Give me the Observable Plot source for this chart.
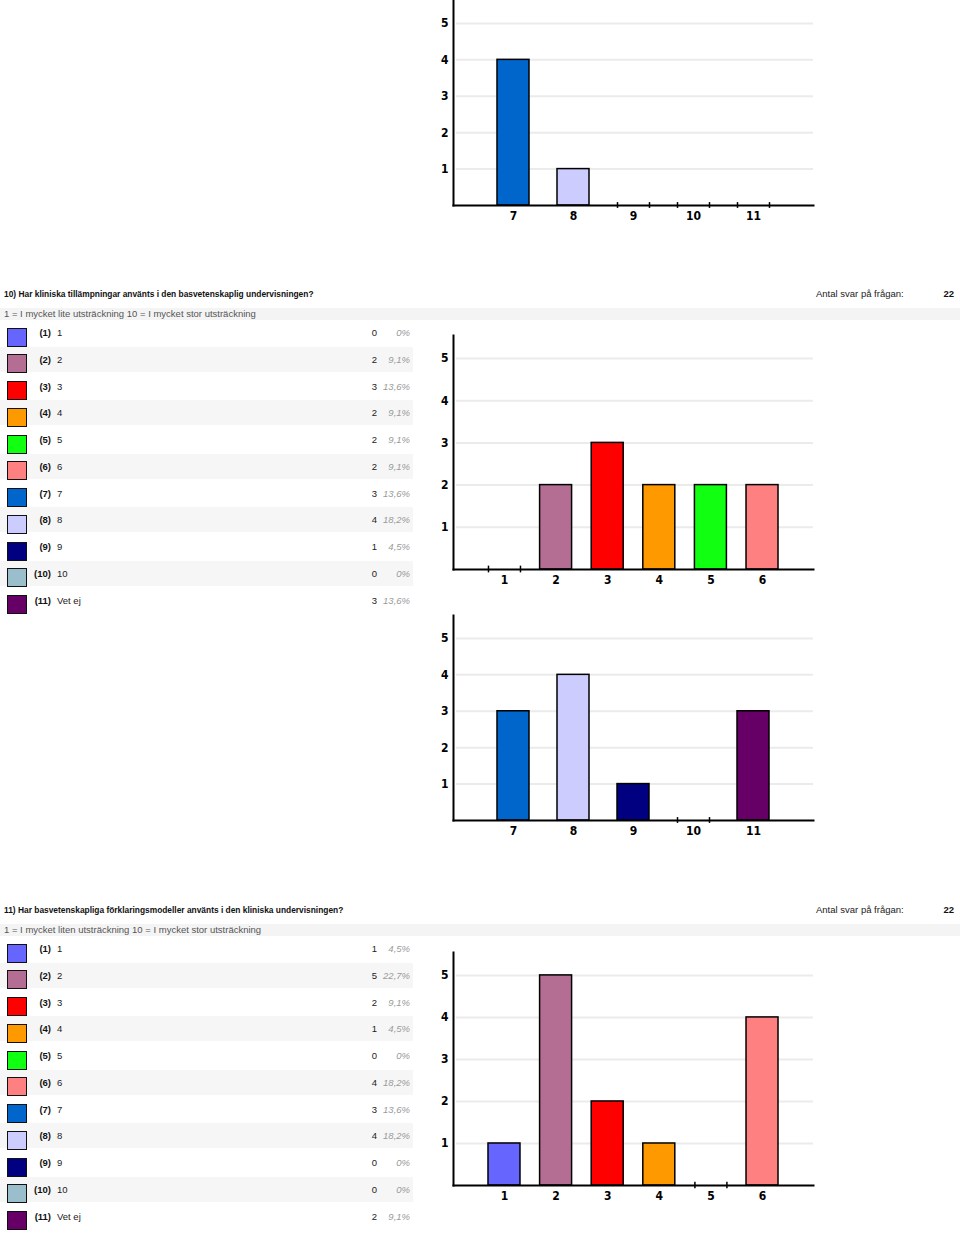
<!DOCTYPE html>
<html><head><meta charset="utf-8">
<script src="https://cdn.jsdelivr.net/npm/d3@7"></script>
<script src="https://cdn.jsdelivr.net/npm/@observablehq/plot@0.6"></script>
<style>
html,body{margin:0;padding:0;background:#fff}
#page{position:relative;width:960px;height:1235px;overflow:hidden;font-family:"Liberation Sans",Arial,sans-serif;color:#222}
.abs{position:absolute;white-space:nowrap}
.chart{position:absolute;left:420px}
.chart svg{overflow:visible}
</style></head><body><div id="page"></div>
<script>
// ---------- data ----------
const optionKeys = ["1","2","3","4","5","6","7","8","9","10","11"];
const optionNames = ["1","2","3","4","5","6","7","8","9","10","Vet ej"];
const optionColors = ["#6666ff","#b46e94","#ff0000","#ff9900","#11ff11","#ff8080","#0066cc","#ccccff","#000080","#9bbecd","#660066"];

// previous question (only its 7–11 chart is visible at the top)
const prevKeys = ["7","8","9","10","11"];
const prevCounts = [4,1,0,0,0];

const q10Title = "10) Har kliniska tillämpningar använts i den basvetenskaplig undervisningen?";
const q10Note = "1 = I mycket lite utsträckning 10 = I mycket stor utsträckning";
const q10Total = 22;
const q10Counts = [0,2,3,2,2,2,3,4,1,0,3];
const q10Pcts = ["0%","9,1%","13,6%","9,1%","9,1%","9,1%","13,6%","18,2%","4,5%","0%","13,6%"];

const q11Title = "11) Har basvetenskapliga förklaringsmodeller använts i den kliniska undervisningen?";
const q11Note = "1 = I mycket liten utsträckning 10 = I mycket stor utsträckning";
const q11Total = 22;
const q11Counts = [1,5,2,1,0,4,3,4,0,0,2];
const q11Pcts = ["4,5%","22,7%","9,1%","4,5%","0%","18,2%","13,6%","18,2%","0%","0%","9,1%"];

const totalLabel = "Antal svar på frågan:";
const gridValues = [1,2,3,4,5];

// ---------- helpers ----------
const page = document.getElementById("page");
function el(css, text, parent = page) {
  const d = document.createElement("div");
  d.className = "abs";
  d.style.cssText = css;
  if (text !== undefined) d.textContent = text;
  parent.appendChild(d);
  return d;
}

function header(top, title, note, total) {
  el(`left:4px;top:${top}px;font-size:8.4px;font-weight:bold;line-height:12px;color:#111`, title);
  el(`left:816px;top:${top}px;font-size:9.5px;line-height:12px;color:#222`, totalLabel);
  el(`left:900px;width:54px;text-align:right;top:${top}px;font-size:9.5px;font-weight:bold;line-height:12px;color:#111`, String(total));
  el(`left:0;top:${top + 20}px;width:960px;height:12px;background:#f4f4f4`);
  el(`left:4px;top:${top + 20}px;font-size:9.5px;line-height:12px;color:#555`, note);
}

function legend(top0, counts, pcts) {
  const step = 26.75;
  optionKeys.forEach((k, i) => {
    const top = top0 + i * step;
    if (i % 2 === 1) el(`left:0;top:${top}px;width:413px;height:25px;background:#f6f6f6`);
    el(`left:7px;top:${top + 7.5}px;width:20px;height:19px;box-sizing:border-box;border:1.5px solid #111;background:${optionColors[i]}`);
    el(`left:0;width:51px;text-align:right;top:${top + 7}px;font-size:9.5px;font-weight:bold;line-height:12px;color:#111`, `(${k})`);
    el(`left:57px;top:${top + 7}px;font-size:9.5px;line-height:12px;color:#222`, optionNames[i]);
    el(`left:300px;width:77px;text-align:right;top:${top + 7}px;font-size:9.5px;line-height:12px;color:#222`, String(counts[i]));
    el(`left:370px;width:40px;text-align:right;top:${top + 7}px;font-size:9.5px;font-style:italic;line-height:12px;color:#9a9a9a`, pcts[i]);
  });
}

function chart(top, keys, values, {marginTop, plotH, ymax, pi, po}) {
  const data = keys.map((key, i) => ({key, value: values[i]}));
  const nonzero = data.filter(d => d.value > 0);
  const zero = data.filter(d => d.value === 0);
  const svg = Plot.plot({
    width: 400,
    height: marginTop + plotH + 25,
    marginLeft: 33, marginRight: 7, marginTop, marginBottom: 25,
    style: {fontFamily: '"Liberation Sans Narrow","DejaVu Sans Condensed","Liberation Sans",sans-serif', fontSize: "12px", fontWeight: "bold", background: "transparent", color: "#000"},
    x: {type: "band", domain: keys, paddingInner: pi, paddingOuter: po, round: false, label: null},
    y: {domain: [0, ymax], label: null},
    color: {type: "ordinal", domain: optionKeys, range: optionColors},
    marks: [
      Plot.ruleY(gridValues, {stroke: "#ebebeb", strokeWidth: 2, insetLeft: 3}),
      Plot.barY(nonzero, {x: "key", y: "value", fill: "key", stroke: "#000", strokeWidth: 1.5}),
      Plot.ruleX(zero, {x: "key", y1: -0.08, y2: 0.08, dx: -16, stroke: "#000", strokeWidth: 1.5}),
      Plot.ruleX(zero, {x: "key", y1: -0.08, y2: 0.08, dx: 16, stroke: "#000", strokeWidth: 1.5}),
      Plot.axisY({ticks: gridValues, tickSize: 0, tickPadding: 5, tickFormat: d => String(d), label: null}),
      Plot.axisX({tickSize: 0, tickPadding: 6, label: null}),
      Plot.frame({anchor: "left", stroke: "#000", strokeWidth: 2}),
      Plot.frame({anchor: "bottom", stroke: "#000", strokeWidth: 2})
    ]
  });
  const wrap = document.createElement("div");
  wrap.className = "chart";
  wrap.style.top = top + "px";
  wrap.appendChild(svg);
  page.appendChild(wrap);
}

const small = {pi: 0.4667, po: 0.7333}; // 5 categories (7–11)
const big = {pi: 0.38, po: 0.678};      // 6 categories (1–6)

// previous question's 7–11 chart, cut at top of page
chart(0, prevKeys, prevCounts, {marginTop: 0, plotH: 205, ymax: 5.63, ...small});

// Question 10
header(288, q10Title, q10Note, q10Total);
legend(320, q10Counts, q10Pcts);
chart(330, optionKeys.slice(0, 6), q10Counts.slice(0, 6), {marginTop: 5, plotH: 234, ymax: 5.545, ...big});
chart(610, optionKeys.slice(6), q10Counts.slice(6), {marginTop: 5, plotH: 205, ymax: 5.63, ...small});

// Question 11
header(904, q11Title, q11Note, q11Total);
legend(936, q11Counts, q11Pcts);
chart(947, optionKeys.slice(0, 6), q11Counts.slice(0, 6), {marginTop: 5, plotH: 233, ymax: 5.545, ...big});
</script></body></html>
